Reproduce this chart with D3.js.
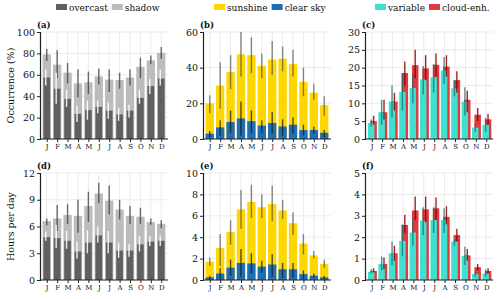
<!DOCTYPE html>
<html>
<head>
<meta charset="utf-8">
<script src="https://cdn.jsdelivr.net/npm/d3@7"></script>
<style>
  body { margin: 0; background: #fff; }
  svg { display: block; font-family: "DejaVu Serif", serif; }
</style>
</head>
<body>
<svg id="chart" width="500" height="299"></svg>
<script>
// ======================
// Dades
// ======================
const months = ["J", "F", "M", "A", "M", "J", "J", "A", "S", "O", "N", "D"];

// (a) occurrence (%) : overcast + shadow (total)
const occOvercast = [57.5, 47, 37.5, 23.5, 27, 30, 26.5, 23, 26.5, 38.5, 49.5, 56.5];
const occOvercastErr = [[50, 65], [33, 62], [30, 46], [16, 31], [18, 36], [24, 36], [19, 34], [17, 29], [20, 32], [33, 46], [42, 56], [50, 65]];
const occTotal = [79, 69.5, 62, 52, 53, 58.5, 55.5, 55, 57.5, 67.5, 73.5, 80.5];
const occTotalErr = [[73, 84], [57, 83], [52, 71], [39, 65], [42, 63], [51, 66], [44, 65], [47, 62], [50, 65], [57, 76], [70, 78], [75, 86]];

// (b) sunshine / clear sky (%)
const occSunshine = [20, 30, 37.5, 47.5, 47, 41, 44.5, 45, 42, 32, 26, 19];
const occSunshineErr = [[14.5, 24.5], [17, 43], [28, 47], [35, 60], [37, 57], [34, 48], [36, 55], [38, 52], [35, 50], [24, 40], [22, 31], [13, 24]];
const occClear = [3, 6.5, 9.5, 11.5, 10, 7.5, 9, 7, 8, 5, 5, 3.5];
const occClearErr = [[1, 4.5], [2, 10.5], [3.5, 16], [2, 21], [3.5, 16], [3.5, 10.5], [3, 15], [2, 11], [3, 12], [2, 8], [3, 7], [1, 5]];

// (c) variable / cloud-enhanced (%)
const occVariable = [4.5, 7.5, 10.5, 13.2, 14.3, 16.7, 17.3, 19.2, 14.2, 10.5, 3.2, 4];
const occVariableErr = [[3.5, 5.5], [4, 11], [6, 15], [8, 18.5], [10, 18.5], [12.5, 20.5], [13, 21], [15.5, 23], [12, 16.5], [6.5, 14.5], [2, 4.5], [2, 6]];
const occEnh = [5, 7.5, 10.5, 18.5, 20.7, 19.8, 20.8, 20.3, 16.5, 11, 6.8, 5.5];
const occEnhErr = [[4, 6.5], [5.5, 11], [8, 13], [15, 21.7], [17, 25], [16.5, 23.5], [17.5, 24], [17.5, 23.5], [13, 19], [7.5, 13.5], [5, 8.7], [4, 7]];

// (d) hours per day : overcast + shadow (total)
const hrsOvercast = [4.8, 4.7, 4.4, 3.2, 4.2, 5.0, 4.2, 3.3, 3.3, 4.0, 4.3, 4.4];
const hrsOvercastErr = [[4.4, 5.4], [3.6, 6.2], [3.5, 5.5], [2.4, 4.3], [3, 5.6], [4.2, 6], [3, 5.5], [2.5, 4.2], [2.6, 4], [3.2, 4.9], [3.8, 4.9], [3.8, 5]];
const hrsTotal = [6.6, 6.9, 7.3, 7.2, 8.3, 9.7, 8.9, 7.9, 7.2, 7.1, 6.5, 6.3];
const hrsTotalErr = [[6.1, 6.9], [5.5, 8.4], [6.3, 8.5], [5.3, 9], [6.5, 9.9], [8.6, 10.9], [7.4, 10.6], [6.8, 9], [6.3, 8.3], [6.3, 8.1], [6.2, 6.9], [5.8, 6.7]];

// (e) sunshine / clear sky (h/day)
const hrsSunshine = [1.7, 3, 4.5, 6.6, 7.3, 6.8, 7.1, 6.5, 5.3, 3.4, 2.3, 1.5];
const hrsSunshineErr = [[1.3, 2.1], [1.3, 4.3], [3.3, 5.6], [4.8, 8.4], [5.8, 8.9], [5.8, 8], [5.5, 8.8], [5.7, 7.5], [4.2, 6.3], [2.4, 4.3], [2, 2.7], [1.1, 1.9]];
const hrsClear = [0.25, 0.6, 1.15, 1.6, 1.55, 1.25, 1.45, 1.0, 1.0, 0.55, 0.4, 0.25];
const hrsClearErr = [[0, 0.4], [0.1, 1.1], [0.4, 1.9], [0.3, 2.9], [0.6, 2.5], [0.7, 1.8], [0.3, 2.4], [0.2, 1.6], [0.2, 1.6], [0.1, 0.9], [0.2, 0.6], [0.1, 0.4]];

// (f) variable / cloud-enhanced (h/day)
const hrsVariable = [0.38, 0.75, 1.25, 1.83, 2.22, 2.77, 2.8, 2.8, 1.8, 1.12, 0.28, 0.3];
const hrsVariableErr = [[0.3, 0.5], [0.45, 1.1], [0.7, 1.8], [1.1, 2.6], [1.6, 2.9], [2.1, 3.4], [2.2, 3.4], [2.2, 3.35], [1.6, 1.9], [0.7, 1.55], [0.15, 0.4], [0.15, 0.5]];
const hrsEnh = [0.42, 0.75, 1.25, 2.57, 3.25, 3.3, 3.35, 2.95, 2.1, 1.15, 0.6, 0.42];
const hrsEnhErr = [[0.35, 0.55], [0.5, 1.05], [0.9, 1.6], [2.2, 3.05], [2.8, 3.9], [2.7, 3.9], [2.8, 3.85], [2.6, 3.45], [1.8, 2.4], [0.9, 1.45], [0.45, 0.75], [0.3, 0.55]];

// ======================
// Estils
// ======================
const C = {
  overcast: "#606060",
  shadow: "#bcbcbc",
  sunshine: "#ffd700",
  clear: "#1f6fb4",
  variable: "#40e0d0",
  enh: "#e0393e"
};

const svg = d3.select("#chart");

const cols = [40, 203, 365];
const plotW = 128;
const rows = [{ top: 32, bottom: 139 }, { top: 173, bottom: 280 }];

function errLines(g, x, y, data, color, opacity, width, dx = 0) {
  g.selectAll(null)
    .data(data)
    .enter()
    .append("line")
    .attr("x1", (d, i) => x(i + 1) + dx)
    .attr("x2", (d, i) => x(i + 1) + dx)
    .attr("y1", d => y(d[0]))
    .attr("y2", d => y(d[1]))
    .attr("stroke", color)
    .attr("stroke-opacity", opacity)
    .attr("stroke-width", width);
}

function drawPanel(col, row, yMax, yTicks, label, kind, d) {
  const x0 = cols[col];
  const r = rows[row];
  const x = d3.scaleLinear().domain([0.35, 12.65]).range([x0, x0 + plotW]);
  const y = d3.scaleLinear().domain([0, yMax]).range([r.bottom, r.top]);
  const bw = x(1.8) - x(1);

  const g = svg.append("g");

  // graella
  g.selectAll(null).data(yTicks).enter().append("line")
    .attr("x1", x0).attr("x2", x0 + plotW)
    .attr("y1", v => y(v)).attr("y2", v => y(v))
    .attr("stroke", "#e6e6e6").attr("stroke-width", 0.8);
  g.selectAll(null).data(months).enter().append("line")
    .attr("x1", (m, i) => x(i + 1)).attr("x2", (m, i) => x(i + 1))
    .attr("y1", r.top).attr("y2", r.bottom)
    .attr("stroke", "#e6e6e6").attr("stroke-width", 0.8);

  if (kind === "stack") {
    g.selectAll(null).data(d.b).enter().append("rect")
      .attr("x", (v, i) => x(i + 1) - bw / 2)
      .attr("width", bw)
      .attr("y", v => y(v))
      .attr("height", v => y(0) - y(v))
      .attr("fill", d.colB);
    const bw2 = d.narrow ? bw * 0.8 : bw;
    g.selectAll(null).data(d.a).enter().append("rect")
      .attr("x", (v, i) => x(i + 1) - bw2 / 2)
      .attr("width", bw2)
      .attr("y", v => y(v))
      .attr("height", v => y(0) - y(v))
      .attr("fill", d.colA);
    errLines(g, x, y, d.bErr, d.errB, d.errBOp, 1.4);
    errLines(g, x, y, d.aErr, d.errA, d.errAOp, 1.4, d.aDx || 0);
  } else {
    // barres de costat, superposades
    const w1 = bw * 0.78;
    const off = bw * 0.22;
    g.selectAll(null).data(d.b).enter().append("rect")
      .attr("x", (v, i) => x(i + 1) - w1 / 2 + off)
      .attr("width", w1)
      .attr("y", v => y(v))
      .attr("height", v => y(0) - y(v))
      .attr("fill", d.colB);
    g.selectAll(null).data(d.a).enter().append("rect")
      .attr("x", (v, i) => x(i + 1) - w1 / 2 - off * 0.3)
      .attr("width", w1)
      .attr("y", v => y(v))
      .attr("height", v => y(0) - y(v))
      .attr("fill", d.colA);
    errLines(g, x, y, d.aErr, d.errA, d.errAOp, 1.4, -off * 0.3);
    errLines(g, x, y, d.bErr, d.errB, d.errBOp, 1.4, off);
  }

  // eixos
  const yAxis = g.append("g")
    .attr("transform", `translate(${x0},0)`)
    .call(d3.axisLeft(y).tickValues(yTicks).tickFormat(d3.format("d")).tickSize(3).tickPadding(2));
  yAxis.select(".domain").attr("stroke", "#222").attr("stroke-width", 1.2);
  yAxis.selectAll(".tick line").attr("stroke", "#222");
  yAxis.selectAll("text").style("font-size", "9.5px").attr("fill", "#111")
    .style("font-family", "DejaVu Serif");

  const xAxis = g.append("g")
    .attr("transform", `translate(0,${r.bottom})`)
    .call(d3.axisBottom(x).tickValues(d3.range(1, 13)).tickFormat(i => months[i - 1]).tickSize(3).tickPadding(2));
  xAxis.select(".domain").attr("stroke", "#222").attr("stroke-width", 1.2)
    .attr("d", `M${x0},0H${x0 + plotW}`);
  xAxis.selectAll(".tick line").attr("stroke", "#222");
  xAxis.selectAll("text").style("font-size", "7px").attr("fill", "#111")
    .style("font-family", "DejaVu Serif");

  g.append("text")
    .attr("x", x0 - 3)
    .attr("y", r.top - 4)
    .text(label)
    .style("font-size", "8.5px")
    .style("font-weight", "bold")
    .attr("fill", "#111");
}

function legend(x, items) {
  let cx = x;
  items.forEach(it => {
    svg.append("rect")
      .attr("x", cx).attr("y", 4)
      .attr("width", 11).attr("height", 6)
      .attr("fill", it.color);
    const t = svg.append("text")
      .attr("x", cx + 13).attr("y", 10.5)
      .text(it.name)
      .style("font-size", "9px")
      .attr("fill", "#111");
    cx += 13 + t.node().getComputedTextLength() + 4;
  });
}

// ======================
// Panells
// ======================
drawPanel(0, 0, 100, [0, 20, 40, 60, 80, 100], "(a)", "stack", {
  a: occOvercast, aErr: occOvercastErr, colA: C.overcast, errA: "#ffffff", errAOp: 0.9, narrow: true, aDx: -1,
  b: occTotal, bErr: occTotalErr, colB: C.shadow, errB: "#3a3a3a", errBOp: 0.75
});
drawPanel(1, 0, 60, [0, 20, 40, 60], "(b)", "stack", {
  a: occClear, aErr: occClearErr, colA: C.clear, errA: "#1a1a1a", errAOp: 0.75,
  b: occSunshine, bErr: occSunshineErr, colB: C.sunshine, errB: "#3a3a3a", errBOp: 0.6
});
drawPanel(2, 0, 30, [0, 5, 10, 15, 20, 25, 30], "(c)", "side", {
  a: occVariable, aErr: occVariableErr, colA: C.variable, errA: "#1d6f6f", errAOp: 0.75,
  b: occEnh, bErr: occEnhErr, colB: C.enh, errB: "#8b0000", errBOp: 0.85
});
drawPanel(0, 1, 12, [0, 3, 6, 9, 12], "(d)", "stack", {
  a: hrsOvercast, aErr: hrsOvercastErr, colA: C.overcast, errA: "#ffffff", errAOp: 0.9, narrow: true, aDx: -1,
  b: hrsTotal, bErr: hrsTotalErr, colB: C.shadow, errB: "#3a3a3a", errBOp: 0.75
});
drawPanel(1, 1, 10, [0, 2, 4, 6, 8, 10], "(e)", "stack", {
  a: hrsClear, aErr: hrsClearErr, colA: C.clear, errA: "#1a1a1a", errAOp: 0.75,
  b: hrsSunshine, bErr: hrsSunshineErr, colB: C.sunshine, errB: "#3a3a3a", errBOp: 0.6
});
drawPanel(2, 1, 5, [0, 1, 2, 3, 4, 5], "(f)", "side", {
  a: hrsVariable, aErr: hrsVariableErr, colA: C.variable, errA: "#1d6f6f", errAOp: 0.75,
  b: hrsEnh, bErr: hrsEnhErr, colB: C.enh, errB: "#8b0000", errBOp: 0.85
});

// ======================
// Llegendes i títols d'eix
// ======================
legend(56, [{ name: "overcast", color: C.overcast }, { name: "shadow", color: C.shadow }]);
legend(214, [{ name: "sunshine", color: C.sunshine }, { name: "clear sky", color: C.clear }]);
legend(375, [{ name: "variable", color: C.variable }, { name: "cloud-enh.", color: C.enh }]);

svg.append("text")
  .attr("transform", `translate(14,${(rows[0].top + rows[0].bottom) / 2}) rotate(-90)`)
  .attr("text-anchor", "middle")
  .text("Occurrence (%)")
  .style("font-size", "9.5px")
  .attr("fill", "#111");

svg.append("text")
  .attr("transform", `translate(14,${(rows[1].top + rows[1].bottom) / 2}) rotate(-90)`)
  .attr("text-anchor", "middle")
  .text("Hours per day")
  .style("font-size", "9.5px")
  .attr("fill", "#111");
</script>
</body>
</html>
